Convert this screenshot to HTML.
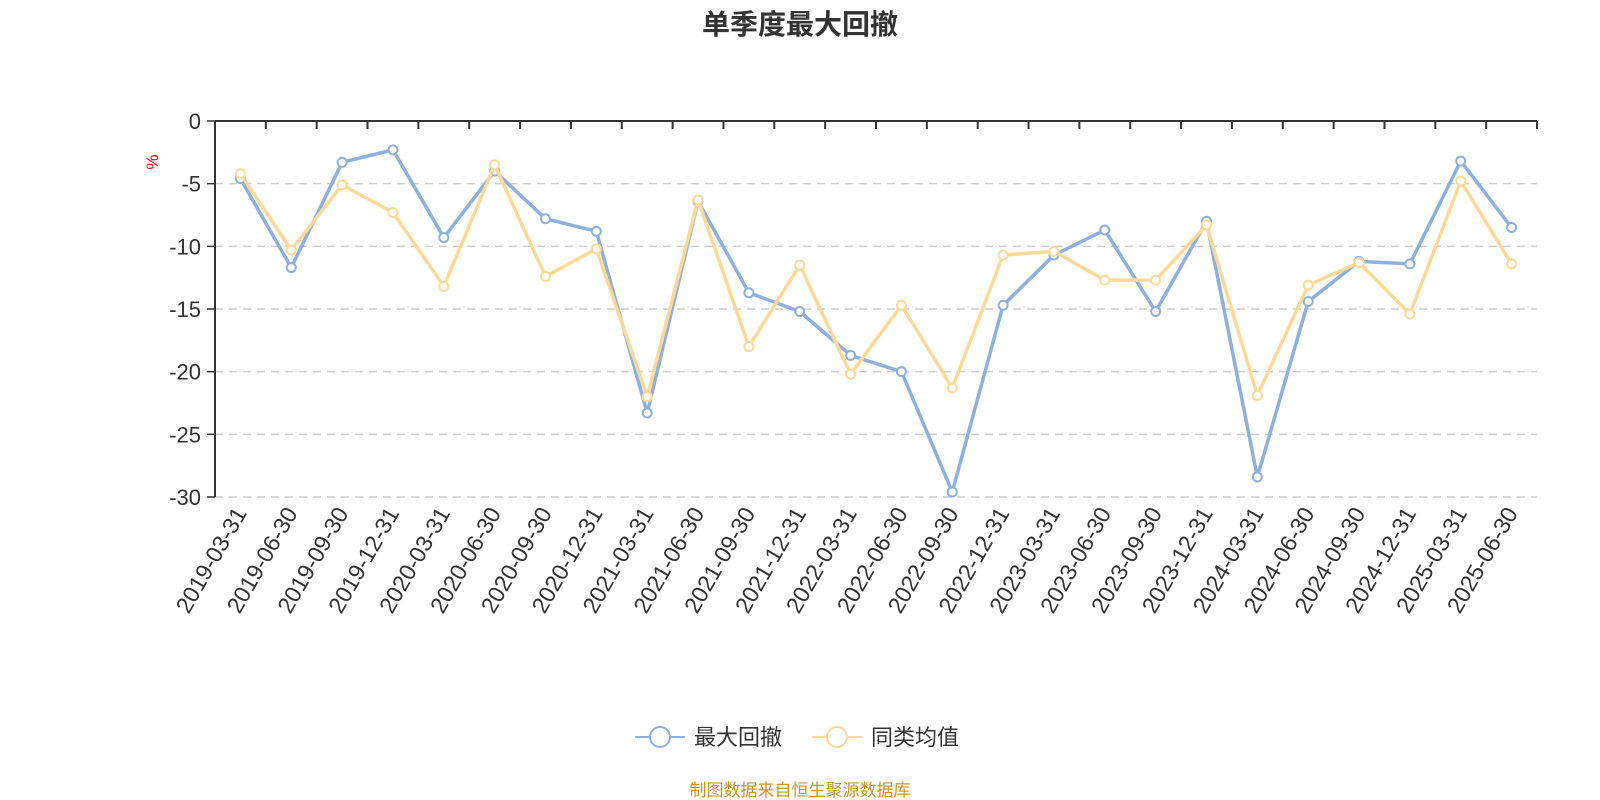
<!DOCTYPE html>
<html><head><meta charset="utf-8"><style>
body{margin:0;background:#fff;}
svg{display:block;font-family:"Liberation Sans","Noto Sans CJK SC",sans-serif;}
</style></head><body>
<svg id="chart" width="1600" height="800">
<text x="800" y="34" text-anchor="middle" font-size="28" font-weight="bold" fill="#333">单季度最大回撤</text>
<text x="158" y="162" fill="red" font-size="17" transform="rotate(-90 158 162)" text-anchor="middle">%</text>
<g id="grid"></g><g id="axes"></g><g id="series"></g>
<g>
<g>
<line x1="635" y1="737" x2="685" y2="737" stroke="#8eb0dc" stroke-width="2"/><circle cx="660" cy="737" r="10" fill="#fff" stroke="#8eb0dc" stroke-width="2"/>
<text x="694" y="745" font-size="22" fill="#333">最大回撤</text></g>
<g>
<line x1="812" y1="737" x2="862" y2="737" stroke="#fdd997" stroke-width="2"/><circle cx="837" cy="737" r="10" fill="#fff" stroke="#fdd997" stroke-width="2"/>
<text x="871" y="745" font-size="22" fill="#333">同类均值</text></g>
</g>
<text x="800" y="796" text-anchor="middle" font-size="17" fill="#c8961e">制图数据来自恒生聚源数据库</text>
</svg>
<script>
const categories=["2019-03-31","2019-06-30","2019-09-30","2019-12-31","2020-03-31","2020-06-30","2020-09-30","2020-12-31","2021-03-31","2021-06-30","2021-09-30","2021-12-31","2022-03-31","2022-06-30","2022-09-30","2022-12-31","2023-03-31","2023-06-30","2023-09-30","2023-12-31","2024-03-31","2024-06-30","2024-09-30","2024-12-31","2025-03-31","2025-06-30"];
const maxDrawdown=[-4.6,-11.7,-3.3,-2.3,-9.3,-4.0,-7.8,-8.8,-23.3,-6.4,-13.7,-15.2,-18.7,-20.0,-29.6,-14.7,-10.7,-8.7,-15.2,-8.0,-28.4,-14.4,-11.2,-11.4,-3.2,-8.5];
const categoryAvg=[-4.2,-10.3,-5.1,-7.3,-13.2,-3.5,-12.4,-10.2,-22.0,-6.3,-18.0,-11.5,-20.2,-14.7,-21.3,-10.7,-10.4,-12.7,-12.7,-8.3,-21.9,-13.1,-11.3,-15.4,-4.8,-11.4];
const yTicks=[0,-5,-10,-15,-20,-25,-30];
const NS="http://www.w3.org/2000/svg";
const X0=215,X1=1537,Y0=121,Y1=497,YMIN=-30,YMAX=0;
const bw=(X1-X0)/categories.length;
const xPos=i=>X0+bw*(i+0.5);
const yPos=v=>Y0+(YMAX-v)/(YMAX-YMIN)*(Y1-Y0);
function mk(t,a,p){const e=document.createElementNS(NS,t);for(const k in a)e.setAttribute(k,a[k]);p.appendChild(e);return e;}
const grid=document.getElementById('grid'),axes=document.getElementById('axes'),ser=document.getElementById('series');
yTicks.forEach(v=>{
  const y=yPos(v);
  if(v!==0){const l=mk('line',{x1:X0,x2:X1,y1:y,y2:y,stroke:'#ccc','stroke-width':1.5,'stroke-dasharray':'8,6'},grid);
  
  }
  const tk=mk('line',{x1:X0-8,x2:X0,y1:y,y2:y,stroke:'#333','stroke-width':1.5},axes);
  
  
  const t=mk('text',{x:X0-14,y:y+8,'text-anchor':'end','font-size':22,fill:'#333'},axes);
  t.textContent=v;
  
  
});
const ya=mk('line',{x1:X0,x2:X0,y1:Y0,y2:Y1,stroke:'#333','stroke-width':2},axes);


const xa=mk('line',{x1:X0,x2:X1,y1:Y0,y2:Y0,stroke:'#333','stroke-width':2},axes);


for(let i=0;i<=categories.length;i++){
  const x=X0+bw*i;
  const tk=mk('line',{x1:x,x2:x,y1:Y0,y2:Y0+8,stroke:'#333','stroke-width':2},axes);
  
  
}
categories.forEach((c,i)=>{
  const x=xPos(i)+7,y=Y1+16;
  const t=mk('text',{x:x,y:y,'text-anchor':'end','font-size':23,fill:'#333',transform:`rotate(-60 ${x} ${y})`},axes);
  t.textContent=c;
  
  
});
function drawSeries(vals,color,name){
  const g=mk('g',{},ser);
  
  
  const pl=mk('polyline',{points:vals.map((v,i)=>xPos(i)+','+yPos(v)).join(' '),fill:'none',stroke:color,'stroke-width':3.5,'stroke-linejoin':'round'},g);
  
  
  vals.forEach((v,i)=>{
    const c=mk('circle',{cx:xPos(i),cy:yPos(v),r:4.5,fill:'#fff',stroke:color,'stroke-width':2},g);
    
    
  });
}
drawSeries(maxDrawdown,'#8eb0dc','max-drawdown-series');
drawSeries(categoryAvg,'#fdd997','category-average-series');
</script>
</body></html>
